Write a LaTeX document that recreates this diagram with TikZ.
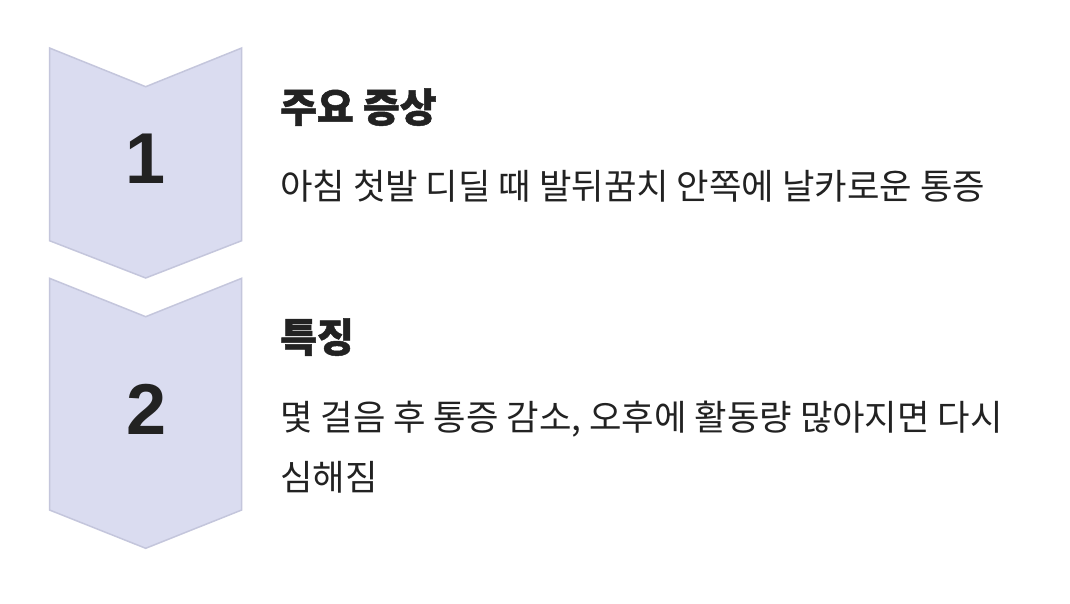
\documentclass[tikz,border=0pt]{standalone}
\usepackage{fontspec}
\newfontfamily\kr{Noto Sans CJK KR}
\newfontfamily\krb{Noto Sans CJK KR Black}[FakeBold=1.2]
\newfontfamily\num{Liberation Sans}
\definecolor{chevfill}{HTML}{DADCF0}
\definecolor{chevline}{HTML}{C4C6DC}
\definecolor{ink}{HTML}{222222}
\tikzset{
  chev/.style={fill=chevfill,draw=chevline,line width=1.5pt,line join=miter},
  numlbl/.style={font=\num\bfseries\fontsize{72}{72}\selectfont,text=ink,inner sep=0pt,anchor=base},
  headlbl/.style={font=\krb\fontsize{40}{40}\selectfont,text=ink,inner sep=0pt,anchor=base west},
  bodylbl/.style={font=\kr\fontsize{35.3}{35.3}\selectfont,text=ink,inner sep=0pt,anchor=base west}
}
\begin{document}
\begin{tikzpicture}[x=1pt,y=-1pt]
\useasboundingbox (0,0) rectangle (1070,604);
\fill[white] (0,0) rectangle (1070,604);
% chevron 1
\draw[chev] (49.5,48) -- (145.7,86.7) -- (241.7,48) -- (241.7,240.7) -- (145.7,278) -- (49.5,240.7) -- cycle;
% chevron 2
\draw[chev] (49.5,278.3) -- (145.7,316.7) -- (241.7,278.3) -- (241.7,510) -- (145.7,548.3) -- (49.5,510) -- cycle;
\node[numlbl] (n1) at (146,183.3) {1};
\node[numlbl] (n2) at (147,434) {2};
\node[headlbl] (h1) at (280,122) {주요 증상};
\node[bodylbl] (b1) at (280,200) {아침 첫발 디딜 때 발뒤꿈치 안쪽에 날카로운 통증};
\node[headlbl] (h2) at (280,352) {특징};
\node[bodylbl] (b2) at (280,430) {몇 걸음 후 통증 감소, 오후에 활동량 많아지면 다시};
\node[bodylbl] (b3) at (280,490) {심해짐};
\end{tikzpicture}
\end{document}
